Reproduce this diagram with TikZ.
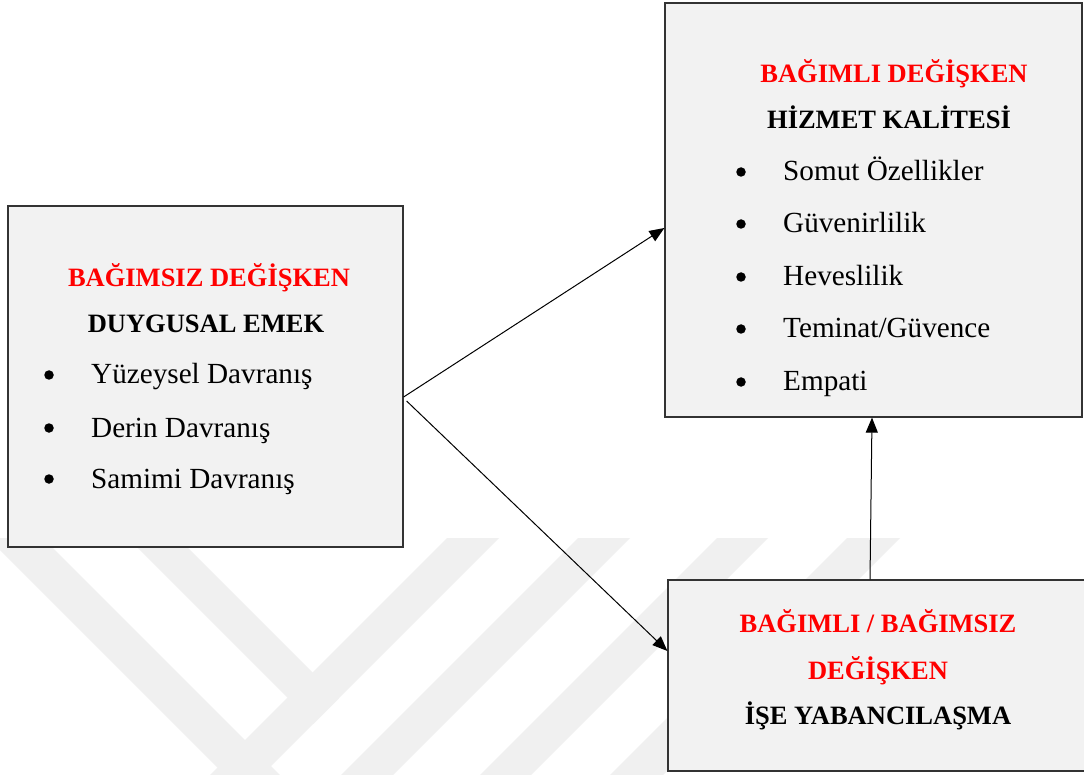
\documentclass[tikz,border=0pt]{standalone}
\usepackage{fontspec}
\setmainfont{Liberation Serif}
\usetikzlibrary{arrows.meta,calc}
\definecolor{boxfill}{RGB}{242,242,242}
\definecolor{markgray}{RGB}{240,240,240}
\begin{document}
\begin{tikzpicture}[x=1pt,y=-1pt,
  box/.style={draw=black!80, line width=1.2pt, fill=boxfill, inner sep=0pt},
  ttl/.style={anchor=base, inner sep=0pt, font=\fontsize{26.5}{30}\selectfont\bfseries, text=red},
  hd/.style={anchor=base, inner sep=0pt, font=\fontsize{26.5}{30}\selectfont\bfseries},
  bul/.style={circle, fill=black, inner sep=0pt, minimum size=9.5pt},
  itm/.style={anchor=base west, inner sep=0pt, font=\fontsize{29.2}{34}\selectfont},
  lnk/.style={line width=1pt, -{Triangle[length=15pt,width=12pt]}}]
\fill[white] (0,0) rectangle (1084,775);
\useasboundingbox (0,0) rectangle (1084,775);

% faint background emblem made of diagonal bands
\begin{scope}
  \clip (0,0) rectangle (1084,775);
  \fill[markgray] (-12,538) -- (43,538) -- (305,800) -- (250,800) -- cycle;
  \fill[markgray] (128,538) -- (178,538) -- (338.5,698.5) -- (313.5,723.5) -- cycle;
  \fill[markgray] (447,538) -- (499,538) -- (237,800) -- (185,800) -- cycle;
  \fill[markgray] (578,538) -- (630,538) -- (368,800) -- (316,800) -- cycle;
  \fill[markgray] (717,538) -- (768,538) -- (506,800) -- (455,800) -- cycle;
  \fill[markgray] (847,538) -- (900,538) -- (638,800) -- (585,800) -- cycle;
\end{scope}

% boxes
\node[box, minimum width=395pt, minimum height=341pt] (L) at (205.5,376.5) {};
\node[box, minimum width=417pt, minimum height=414pt] (TR) at (873.5,210) {};
\node[box, minimum width=420pt, minimum height=191pt] (BR) at (878,675.5) {};

% independent variable
\node[ttl] (l1) at (209,287) {BAĞIMSIZ DEĞİŞKEN};
\node[hd]  (l2) at (206,333) {DUYGUSAL EMEK};
\node[bul] (lb1) at (49,375) {};
\node[itm] (li1) at (91,384) {Yüzeysel Davranış};
\node[bul] (lb2) at (49,428) {};
\node[itm] (li2) at (91,437) {Derin Davranış};
\node[bul] (lb3) at (49,479) {};
\node[itm] (li3) at (91,488) {Samimi Davranış};

% dependent variable
\node[ttl] (r1) at (894,83) {BAĞIMLI DEĞİŞKEN};
\node[hd]  (r2) at (889,129) {HİZMET KALİTESİ};
\node[bul] (rb1) at (741,172) {};
\node[itm] (ri1) at (783,181) {Somut Özellikler};
\node[bul] (rb2) at (741,224) {};
\node[itm] (ri2) at (783,233) {Güvenirlilik};
\node[bul] (rb3) at (741,277) {};
\node[itm] (ri3) at (783,286) {Heveslilik};
\node[bul] (rb4) at (741,329) {};
\node[itm] (ri4) at (783,338) {Teminat/Güvence};
\node[bul] (rb5) at (741,382) {};
\node[itm] (ri5) at (783,391) {Empati};

% mediating variable
\node[ttl] (b1) at (878,632) {BAĞIMLI / BAĞIMSIZ};
\node[ttl] (b2) at (878,679) {DEĞİŞKEN};
\node[hd]  (b3) at (878,724) {İŞE YABANCILAŞMA};

% connector end points on the box borders
\coordinate (Lo1) at ($(L.east)+(0,20.5)$);
\coordinate (Lo2) at ($(L.east)+(3,24.5)$);
\coordinate (TRin) at ($(TR.west)+(0,18)$);
\coordinate (BRin) at ($(BR.west)+(0,-24.5)$);
\coordinate (BRout) at ($(BR.north)+(-8,0)$);
\coordinate (TRbot) at ($(TR.south)+(-1.5,0)$);

\draw[lnk] (Lo1) -- (TRin);
\draw[lnk] (Lo2) -- (BRin);
\draw[lnk] (BRout) -- (TRbot);
\end{tikzpicture}
\end{document}
